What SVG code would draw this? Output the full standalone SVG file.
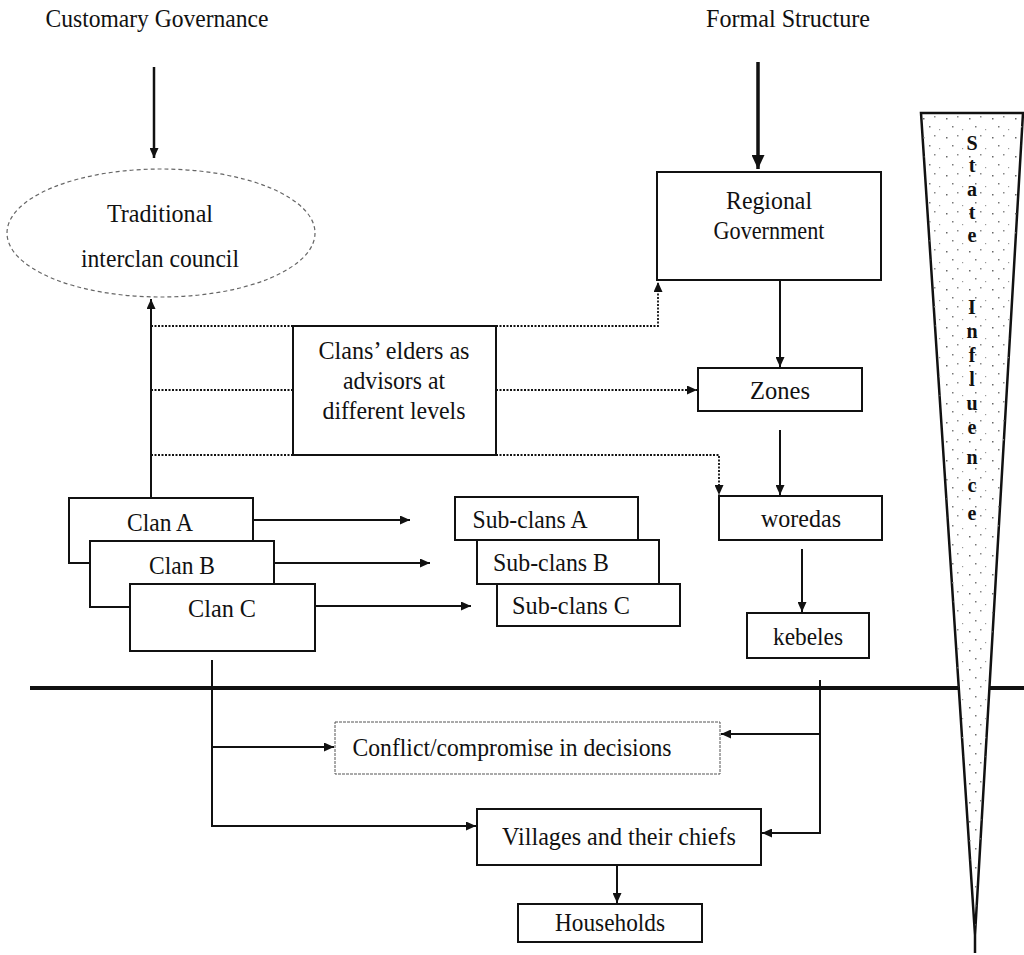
<svg xmlns="http://www.w3.org/2000/svg" width="1024" height="955" viewBox="0 0 1024 955">
<style>
text{font-family:"Liberation Serif","Times New Roman",serif;fill:#111;font-size:25px;text-anchor:middle}
.box{fill:#fff;stroke:#111;stroke-width:2}
.ln{fill:none;stroke:#111;stroke-width:2}
.dot{fill:none;stroke:#111;stroke-width:1.8;stroke-dasharray:2 1.5}
.st{font-weight:bold;font-size:20px}
</style>
<defs>
<marker id="ah" markerUnits="userSpaceOnUse" markerWidth="10" markerHeight="9" refX="10" refY="4.5" orient="auto"><path d="M0,0 L10,4.5 L0,9 z" fill="#111"/></marker>
<marker id="ahb" markerUnits="userSpaceOnUse" markerWidth="14" markerHeight="13" refX="14" refY="6.5" orient="auto"><path d="M0,0 L14,6.5 L0,13 z" fill="#111"/></marker>
<pattern id="spk" patternUnits="userSpaceOnUse" width="23" height="19">
<rect x="3" y="4" width="1.5" height="1.5" fill="#666"/>
<rect x="14" y="2" width="1.5" height="1.5" fill="#888"/>
<rect x="9" y="12" width="1.5" height="1.5" fill="#777"/>
<rect x="19" y="15" width="1.2" height="1.2" fill="#999"/>
</pattern>
</defs>

<g id="headers">
<text x="157" y="27" textLength="223" lengthAdjust="spacingAndGlyphs">Customary Governance</text>
<text x="788" y="27" textLength="164" lengthAdjust="spacingAndGlyphs">Formal Structure</text>
</g>

<g id="baseline">
<line x1="30" y1="688" x2="1024" y2="688" stroke="#111" stroke-width="4"/>
</g>

<g id="state-influence">
<polygon points="921,113 1023,113 975,935" fill="#fff" stroke="#111" stroke-width="2.5"/>
<polygon points="921,113 1023,113 975,935" fill="url(#spk)"/>
<line x1="975" y1="935" x2="975" y2="953" stroke="#111" stroke-width="2.5"/>
<text class="st" x="972" y="150">S</text>
<text class="st" x="972" y="172">t</text>
<text class="st" x="972" y="196">a</text>
<text class="st" x="972" y="219">t</text>
<text class="st" x="972" y="242">e</text>
<text class="st" x="972" y="314">I</text>
<text class="st" x="972" y="338">n</text>
<text class="st" x="972" y="362">f</text>
<text class="st" x="972" y="386">l</text>
<text class="st" x="972" y="410">u</text>
<text class="st" x="972" y="434">e</text>
<text class="st" x="972" y="464">n</text>
<text class="st" x="972" y="492">c</text>
<text class="st" x="972" y="520">e</text>
</g>

<g id="connectors">
<line x1="154" y1="67" x2="154" y2="158" stroke="#111" stroke-width="2.5" marker-end="url(#ah)"/>
<line x1="758" y1="62" x2="758" y2="169" stroke="#111" stroke-width="3.5" marker-end="url(#ahb)"/>
<line class="ln" x1="151" y1="498" x2="151" y2="299" marker-end="url(#ah)"/>
<polyline class="dot" points="151,326 293,326"/>
<polyline class="dot" points="496,326 658,326 658,282" marker-end="url(#ah)"/>
<polyline class="dot" points="151,390 293,390"/>
<polyline class="dot" points="496,390 697,390" marker-end="url(#ah)"/>
<polyline class="dot" points="151,455 293,455"/>
<polyline class="dot" points="496,455 719,455 719,495" marker-end="url(#ah)"/>
<line class="ln" x1="780" y1="280" x2="780" y2="367" marker-end="url(#ah)"/>
<line class="ln" x1="780" y1="430" x2="780" y2="495" marker-end="url(#ah)"/>
<line class="ln" x1="802" y1="549" x2="802" y2="612" marker-end="url(#ah)"/>
<line class="ln" x1="253" y1="520" x2="410" y2="520" marker-end="url(#ah)"/>
<line class="ln" x1="274" y1="563" x2="430" y2="563" marker-end="url(#ah)"/>
<line class="ln" x1="315" y1="606" x2="471" y2="606" marker-end="url(#ah)"/>
<polyline class="ln" points="212,660 212,826 476,826" marker-end="url(#ah)"/>
<line class="ln" x1="212" y1="747" x2="334" y2="747" marker-end="url(#ah)"/>
<polyline class="ln" points="820,680 820,833 762,833" marker-end="url(#ah)"/>
<line class="ln" x1="820" y1="734" x2="721" y2="734" marker-end="url(#ah)"/>
<line class="ln" x1="617" y1="866" x2="617" y2="903" marker-end="url(#ah)"/>
</g>

<g id="council">
<ellipse cx="161" cy="233" rx="154" ry="64" fill="none" stroke="#666" stroke-width="1.2" stroke-dasharray="4 3"/>
<text x="160" y="222" textLength="106" lengthAdjust="spacingAndGlyphs">Traditional</text>
<text x="160" y="267" textLength="158" lengthAdjust="spacingAndGlyphs">interclan council</text>
</g>

<g id="regional">
<rect class="box" x="657" y="172" width="224" height="108"/>
<text x="769" y="209" textLength="86" lengthAdjust="spacingAndGlyphs">Regional</text>
<text x="769" y="239" textLength="111" lengthAdjust="spacingAndGlyphs">Government</text>
</g>

<g id="elders">
<rect class="box" x="293" y="326" width="203" height="129"/>
<text x="394" y="359" textLength="151" lengthAdjust="spacingAndGlyphs">Clans’ elders as</text>
<text x="394" y="389" textLength="102" lengthAdjust="spacingAndGlyphs">advisors at</text>
<text x="394" y="419" textLength="143" lengthAdjust="spacingAndGlyphs">different levels</text>
</g>

<g id="zones">
<rect class="box" x="698" y="368" width="164" height="43"/>
<text x="780" y="399" textLength="60" lengthAdjust="spacingAndGlyphs">Zones</text>
</g>
<g id="woredas">
<rect class="box" x="719" y="496" width="163" height="44"/>
<text x="801" y="527" textLength="80" lengthAdjust="spacingAndGlyphs">woredas</text>
</g>
<g id="kebeles">
<rect class="box" x="747" y="613" width="122" height="45"/>
<text x="808" y="645" textLength="70" lengthAdjust="spacingAndGlyphs">kebeles</text>
</g>

<g id="clan-a">
<rect class="box" x="69" y="498" width="184" height="65"/>
<text x="160" y="531" textLength="66" lengthAdjust="spacingAndGlyphs">Clan A</text>
</g>
<g id="clan-b">
<rect class="box" x="90" y="541" width="184" height="66"/>
<text x="182" y="574" textLength="66" lengthAdjust="spacingAndGlyphs">Clan B</text>
</g>
<g id="clan-c">
<rect class="box" x="130" y="584" width="185" height="67"/>
<text x="222" y="617" textLength="68" lengthAdjust="spacingAndGlyphs">Clan C</text>
</g>

<g id="subclan-a">
<rect class="box" x="455" y="497" width="183" height="43"/>
<text x="530" y="528" textLength="115" lengthAdjust="spacingAndGlyphs">Sub-clans A</text>
</g>
<g id="subclan-b">
<rect class="box" x="477" y="540" width="182" height="44"/>
<text x="551" y="571" textLength="116" lengthAdjust="spacingAndGlyphs">Sub-clans B</text>
</g>
<g id="subclan-c">
<rect class="box" x="497" y="584" width="183" height="42"/>
<text x="571" y="614" textLength="118" lengthAdjust="spacingAndGlyphs">Sub-clans C</text>
</g>

<g id="conflict">
<rect x="335" y="722" width="385" height="52" fill="#fff" stroke="#555" stroke-width="1" stroke-dasharray="3 1"/>
<text x="512" y="756" textLength="319" lengthAdjust="spacingAndGlyphs">Conflict/compromise in decisions</text>
</g>
<g id="villages">
<rect class="box" x="477" y="809" width="284" height="56"/>
<text x="619" y="845" textLength="234" lengthAdjust="spacingAndGlyphs">Villages and their chiefs</text>
</g>
<g id="households">
<rect class="box" x="518" y="904" width="184" height="38"/>
<text x="610" y="931" textLength="110" lengthAdjust="spacingAndGlyphs">Households</text>
</g>
</svg>
